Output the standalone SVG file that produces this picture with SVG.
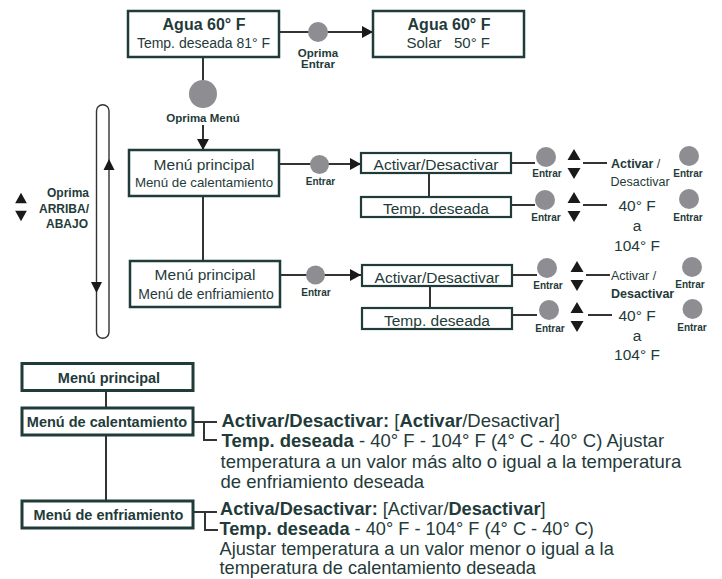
<svg xmlns="http://www.w3.org/2000/svg" width="722" height="579" viewBox="0 0 722 579">
<style>
text{font-family:"Liberation Sans",Arial,Helvetica,sans-serif;fill:#1f3b3a}
.b{font-weight:bold}
.c{text-anchor:middle}
.box{fill:#fff;stroke:#1f3b3a;stroke-width:2.5}
.sbox{fill:#fff;stroke:#1f3b3a;stroke-width:2.2}
.bbox{fill:#fff;stroke:#1f3b3a;stroke-width:3}
.ln{stroke:#333;stroke-width:2;fill:none}
.thin{stroke:#333;stroke-width:1.4;fill:none}
.dot{fill:#8e8e92}
.tri{fill:#1a1a1a}
.e{font-size:10px;font-weight:bold;text-anchor:middle}
.bt{font-size:18.5px}
</style>
<defs>
<marker id="ah" markerUnits="userSpaceOnUse" markerWidth="12" markerHeight="12" refX="11" refY="6" orient="auto"><path d="M0,0 L11,6 L0,12 Z" fill="#1a1a1a"/></marker>
<path id="ud" d="M-6.5,-4 L6.5,-4 L0,-15 Z M-6.5,4 L6.5,4 L0,15 Z"/>
</defs>
<rect width="722" height="579" fill="#fff"/>

<g id="connectors">
<path class="ln" d="M279,32 H373" marker-end="url(#ah)"/>
<path class="ln" d="M203,57 V80"/>
<path class="ln" d="M203,125 V150" marker-end="url(#ah)"/>
<path class="ln" d="M203,196 V260"/>
<path class="ln" d="M279,164 H361" marker-end="url(#ah)"/>
<path class="ln" d="M280,275 H361" marker-end="url(#ah)"/>
<path class="ln" d="M429,173 V197"/>
<path class="ln" d="M430,286 V308"/>
<path class="ln" d="M511,163 H535 M583,163 H607"/>
<path class="ln" d="M511,205 H535 M583,205 H607"/>
<path class="ln" d="M512,275 H537 M586,275 H610"/>
<path class="ln" d="M512,315 H537 M588,315 H612"/>
<path class="thin" d="M96.5,111 V332 A6.25,6.25 0 0 0 109,332 V111 A6.25,6.25 0 0 0 96.5,111 Z"/>
<polygon class="tri" points="103.5,170 114.5,170 109,159"/>
<polygon class="tri" points="91,282 102,282 96.5,293"/>
<path class="ln" d="M106,391 V408 M106,435 V501"/>
<path class="ln" d="M193,422 H217 M204,422 V440 H217"/>
<path class="ln" d="M193,512 H217 M205,512 V530 H218"/>
</g>

<g id="buttons">
<circle class="dot" cx="318" cy="32" r="10"/>
<circle class="dot" cx="203" cy="94" r="14"/>
<circle class="dot" cx="319.5" cy="164.5" r="9.5"/>
<circle class="dot" cx="315.5" cy="275" r="9.5"/>
<circle class="dot" cx="546" cy="157" r="10"/>
<circle class="dot" cx="689" cy="156" r="10"/>
<circle class="dot" cx="545" cy="200" r="10"/>
<circle class="dot" cx="689" cy="199" r="10"/>
<circle class="dot" cx="547" cy="268" r="10"/>
<circle class="dot" cx="692" cy="267" r="10"/>
<circle class="dot" cx="549" cy="310" r="10"/>
<circle class="dot" cx="692.5" cy="309" r="10"/>
</g>

<g id="arrows-updown" class="tri">
<use href="#ud" transform="translate(21,207) scale(0.9,0.95)"/>
<use href="#ud" transform="translate(574,164)"/>
<use href="#ud" transform="translate(574,207)"/>
<use href="#ud" transform="translate(577,276)"/>
<use href="#ud" transform="translate(577,317)"/>
</g>

<g id="labels">
<text class="b c" x="318" y="57.3" font-size="11.5">Oprima</text>
<text class="b c" x="318" y="68.3" font-size="11.5">Entrar</text>
<text class="b c" x="203" y="121.5" font-size="11.5">Oprima Menú</text>
<text class="b" x="89" y="197.3" font-size="12" text-anchor="end">Oprima</text>
<text class="b" x="89" y="213.3" font-size="12" text-anchor="end">ARRIBA/</text>
<text class="b" x="88" y="227.7" font-size="12" text-anchor="end">ABAJO</text>
<text class="e" x="320.5" y="184.5">Entrar</text>
<text class="e" x="316" y="295.5">Entrar</text>
<text class="e" x="547" y="177">Entrar</text>
<text class="e" x="688" y="177">Entrar</text>
<text class="e" x="546" y="221">Entrar</text>
<text class="e" x="688" y="221">Entrar</text>
<text class="e" x="548" y="288.5">Entrar</text>
<text class="e" x="690" y="288">Entrar</text>
<text class="e" x="550" y="332">Entrar</text>
<text class="e" x="692" y="330.5">Entrar</text>
<text x="611" y="168" font-size="12.5"><tspan class="b">Activar</tspan> /</text>
<text x="610.5" y="185.5" font-size="12.5">Desactivar</text>
<text class="c" x="637" y="211" font-size="15.5">40° F</text>
<text class="c" x="637" y="231" font-size="15.5">a</text>
<text class="c" x="637" y="250.5" font-size="15.5">104° F</text>
<text x="611" y="280" font-size="12.5">Activar /</text>
<text class="b" x="611" y="298" font-size="12.5">Desactivar</text>
<text class="c" x="637" y="321" font-size="15.5">40° F</text>
<text class="c" x="637" y="341" font-size="15.5">a</text>
<text class="c" x="637" y="359.5" font-size="15.5">104° F</text>
</g>

<g id="node-agua1">
<rect class="box" x="128" y="11" width="151" height="46"/>
<text class="b c" x="204" y="30" font-size="16">Agua 60° F</text>
<text class="c" x="203.5" y="48" font-size="14">Temp. deseada 81° F</text>
</g>
<g id="node-agua2">
<rect class="box" x="373" y="11" width="151" height="46"/>
<text class="b c" x="449" y="30" font-size="16">Agua 60° F</text>
<text x="406.5" y="48" font-size="15">Solar<tspan x="454">50° F</tspan></text>
</g>

<g id="node-menu-cal">
<rect class="box" x="129" y="150" width="150" height="46"/>
<text class="c" x="204" y="170" font-size="15.5">Menú principal</text>
<text class="c" x="204" y="187" font-size="13.3">Menú de calentamiento</text>
</g>
<g id="node-menu-enf">
<rect class="box" x="130" y="261" width="150" height="46"/>
<text class="c" x="205" y="280" font-size="15.5">Menú principal</text>
<text class="c" x="206" y="298.5" font-size="14">Menú de enfriamiento</text>
</g>

<g id="node-act1">
<rect class="sbox" x="361" y="153" width="150" height="20"/>
<text class="c" x="436" y="170" font-size="15.5">Activar/Desactivar</text>
</g>
<g id="node-temp1">
<rect class="sbox" x="361" y="197" width="150" height="20"/>
<text class="c" x="436" y="214" font-size="15.5">Temp. deseada</text>
</g>
<g id="node-act2">
<rect class="sbox" x="362" y="265" width="150" height="21"/>
<text class="c" x="437" y="282.5" font-size="15.5">Activar/Desactivar</text>
</g>
<g id="node-temp2">
<rect class="sbox" x="362" y="308" width="150" height="21"/>
<text class="c" x="437" y="325.5" font-size="15.5">Temp. deseada</text>
</g>

<g id="node-bmenu">
<rect class="bbox" x="22" y="363.5" width="171" height="27"/>
<text class="b c" x="109" y="383" font-size="14.5">Menú principal</text>
</g>
<g id="node-bcal">
<rect class="bbox" x="22" y="408" width="171" height="27"/>
<text class="b c" x="107" y="427" font-size="14.5">Menú de calentamiento</text>
</g>
<g id="node-benf">
<rect class="bbox" x="22" y="501" width="171" height="27"/>
<text class="b c" x="108.5" y="519.5" font-size="14.5">Menú de enfriamiento</text>
</g>

<g id="desc-cal" class="bt">
<text x="221.5" y="426.5" font-size="18.5"><tspan class="b">Activar/Desactivar:</tspan> [<tspan class="b">Activar</tspan>/Desactivar]</text>
<text x="221.5" y="447" font-size="18.5"><tspan class="b">Temp. deseada</tspan> - 40° F - 104° F (4° C - 40° C) Ajustar</text>
<text x="220.5" y="467.5" font-size="18.5">temperatura a un valor más alto o igual a la temperatura</text>
<text x="220.5" y="488" font-size="18.5">de enfriamiento deseada</text>
</g>
<g id="desc-enf" class="bt">
<text x="220" y="514.5" font-size="18.2"><tspan class="b">Activa/Desactivar:</tspan> [Activar/<tspan class="b">Desactivar</tspan>]</text>
<text x="219.5" y="534.5" font-size="18.2"><tspan class="b">Temp. deseada</tspan> - 40° F - 104° F (4° C - 40° C)</text>
<text x="219.5" y="554.5" font-size="18.2">Ajustar temperatura a un valor menor o igual a la</text>
<text x="219.5" y="574.3" font-size="18.2">temperatura de calentamiento deseada</text>
</g>
</svg>
